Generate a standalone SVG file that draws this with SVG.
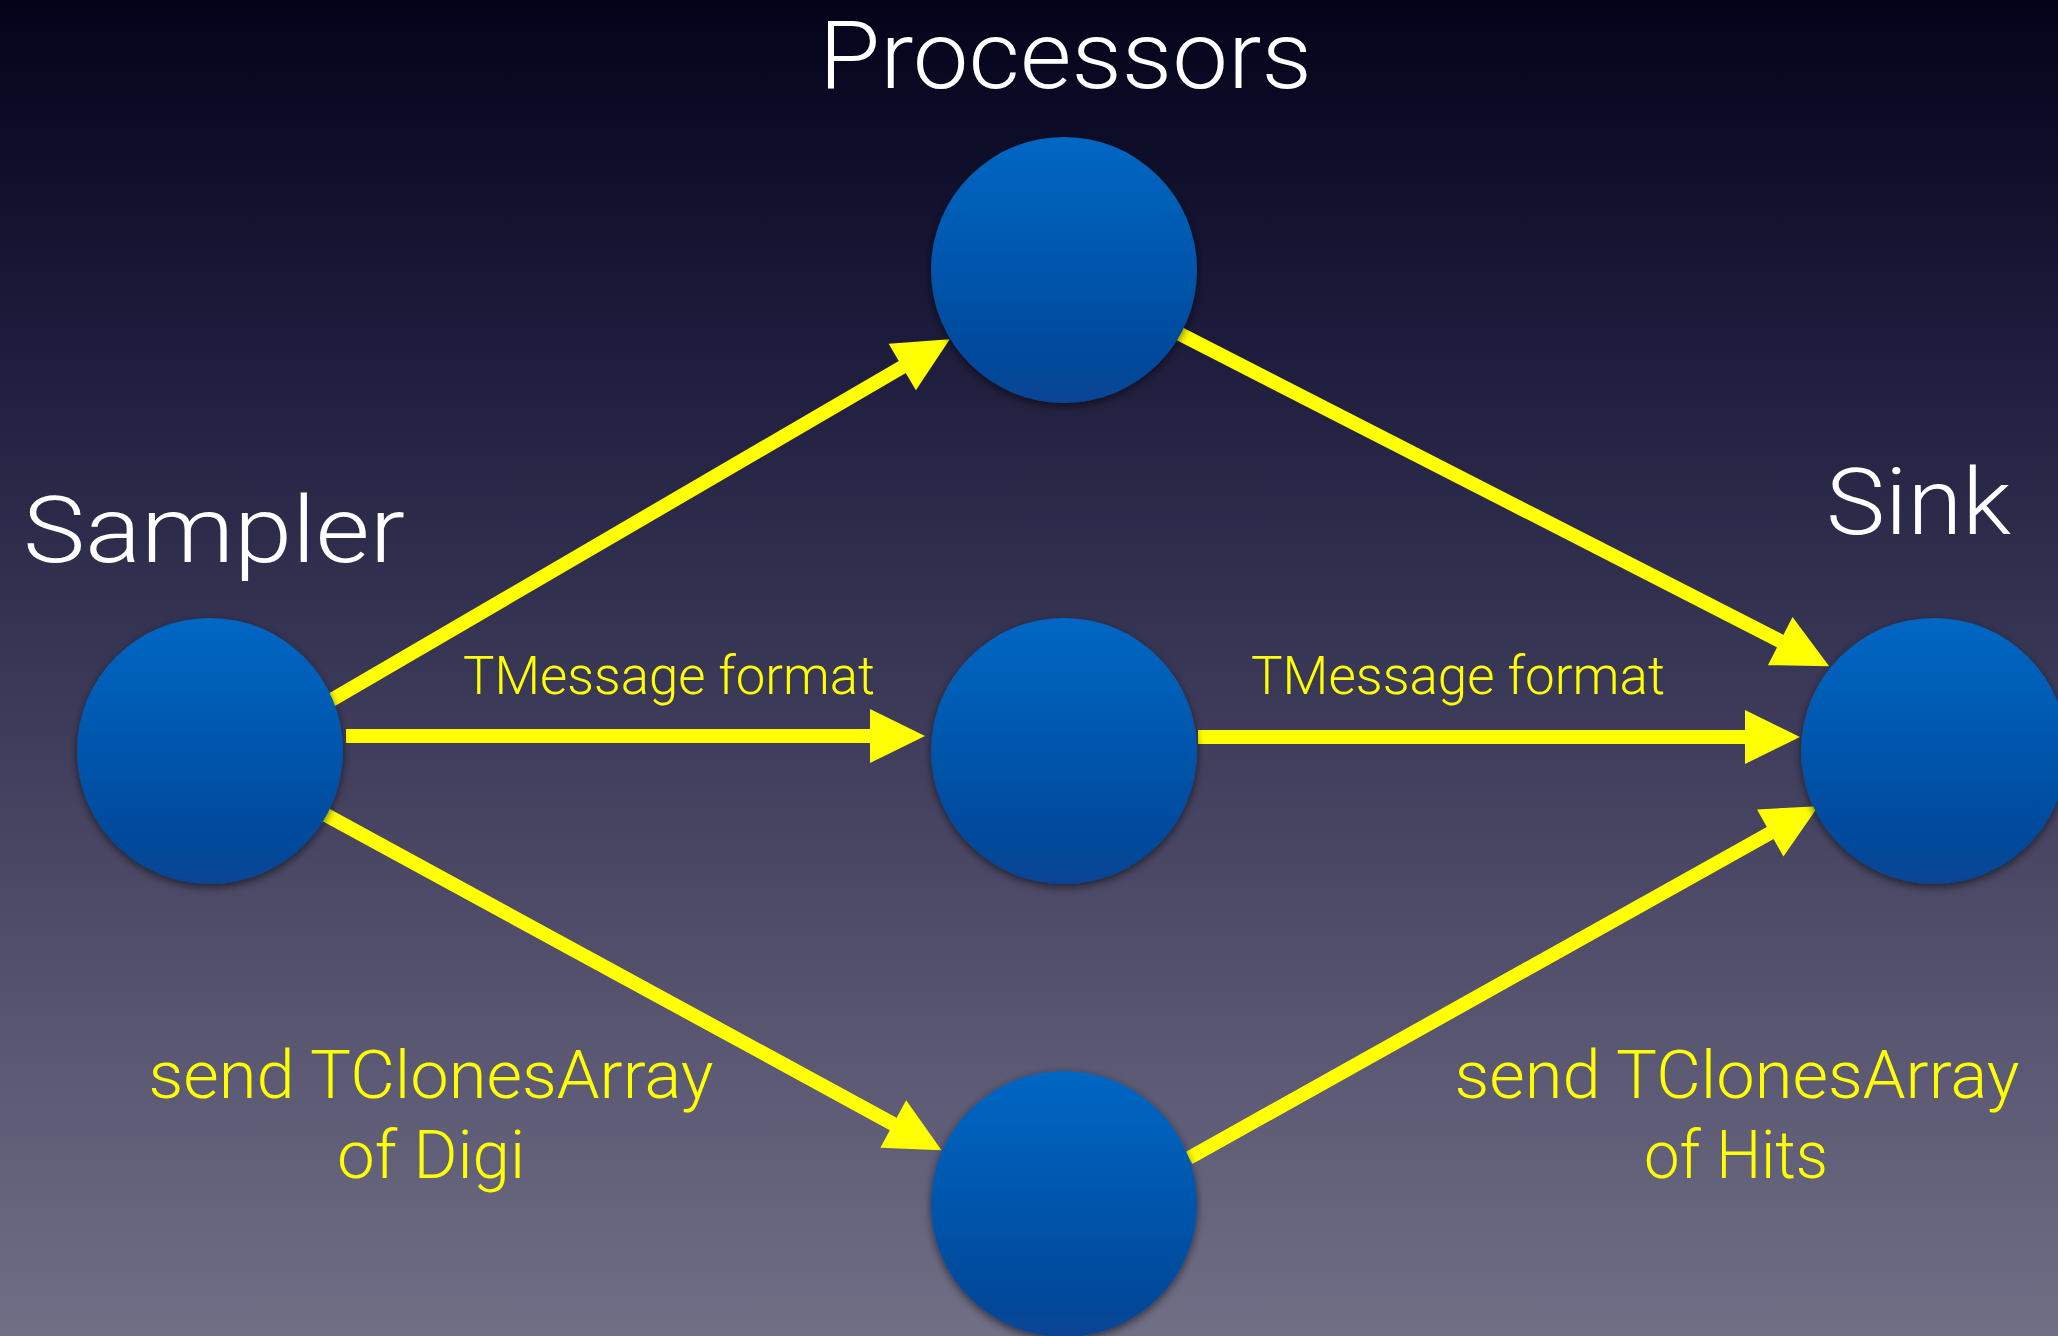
<svg xmlns="http://www.w3.org/2000/svg" width="2058" height="1336" viewBox="0 0 2058 1336">
<style>
.title{font-family:Roboto,"Liberation Sans",sans-serif;font-weight:300;fill:#ffffff}
.lbl{font-family:Roboto,"Liberation Sans",sans-serif;font-weight:300;fill:#ffff00}
.edge{stroke:#ffff00;stroke-width:14;fill:none;marker-end:url(#head)}
.node{fill:url(#ball);filter:url(#shadow)}
</style>
<defs>
<linearGradient id="bg" x1="0" y1="0" x2="0" y2="1">
<stop offset="0" stop-color="#03031a"/>
<stop offset="0.25" stop-color="#1c1b3b"/>
<stop offset="0.5" stop-color="#393756"/>
<stop offset="0.75" stop-color="#55536e"/>
<stop offset="1" stop-color="#716f86"/>
</linearGradient>
<linearGradient id="ball" x1="0" y1="0" x2="0" y2="1">
<stop offset="0" stop-color="#0067c3"/>
<stop offset="1" stop-color="#074494"/>
</linearGradient>
<filter id="shadow" x="-20%" y="-20%" width="140%" height="140%">
<feDropShadow dx="0" dy="3" stdDeviation="4" flood-color="#000000" flood-opacity="0.55"/>
</filter>
<marker id="head" markerUnits="userSpaceOnUse" markerWidth="56" markerHeight="56" refX="2" refY="27" orient="auto" overflow="visible">
<path d="M0,0 L55,27 L0,54 Z" fill="#ffff00"/>
</marker>
</defs>
<rect x="0" y="0" width="2058" height="1336" fill="url(#bg)"/>

<g id="connectors">
<line class="edge" x1="328" y1="702" x2="904" y2="366"/>
<line class="edge" x1="346" y1="736" x2="872" y2="736"/>
<line class="edge" x1="326" y1="815" x2="895" y2="1125"/>
<line class="edge" x1="1180" y1="334" x2="1782" y2="642"/>
<line class="edge" x1="1198" y1="737" x2="1747" y2="737"/>
<line class="edge" x1="1189" y1="1158" x2="1772" y2="832"/>
<text class="lbl" x="463" y="694" font-size="53" textLength="412" lengthAdjust="spacingAndGlyphs">TMessage format</text>
<text class="lbl" x="1251" y="694" font-size="53" textLength="414" lengthAdjust="spacingAndGlyphs">TMessage format</text>
<text class="lbl" x="431" y="1098" font-size="67" text-anchor="middle" textLength="565" lengthAdjust="spacingAndGlyphs">send TClonesArray</text>
<text class="lbl" x="431" y="1178" font-size="67" text-anchor="middle" textLength="188" lengthAdjust="spacingAndGlyphs">of Digi</text>
<text class="lbl" x="1737" y="1098" font-size="67" text-anchor="middle" textLength="565" lengthAdjust="spacingAndGlyphs">send TClonesArray</text>
<text class="lbl" x="1736" y="1178" font-size="67" text-anchor="middle" textLength="184" lengthAdjust="spacingAndGlyphs">of Hits</text>
</g>

<g id="sampler">
<circle class="node" cx="210" cy="751" r="133"/>
<text class="title" x="23" y="562" font-size="93" textLength="382" lengthAdjust="spacingAndGlyphs">Sampler</text>
</g>
<g id="processor-top">
<circle class="node" cx="1064" cy="270" r="133"/>
<text class="title" x="819" y="88" font-size="94" textLength="493" lengthAdjust="spacingAndGlyphs">Processors</text>
</g>
<g id="processor-middle">
<circle class="node" cx="1064" cy="751" r="133"/>
</g>
<g id="processor-bottom">
<circle class="node" cx="1064" cy="1204" r="133"/>
</g>
<g id="sink">
<circle class="node" cx="1934" cy="751" r="133"/>
<text class="title" x="1826" y="534" font-size="93" textLength="185" lengthAdjust="spacingAndGlyphs">Sink</text>
</g>
</svg>
